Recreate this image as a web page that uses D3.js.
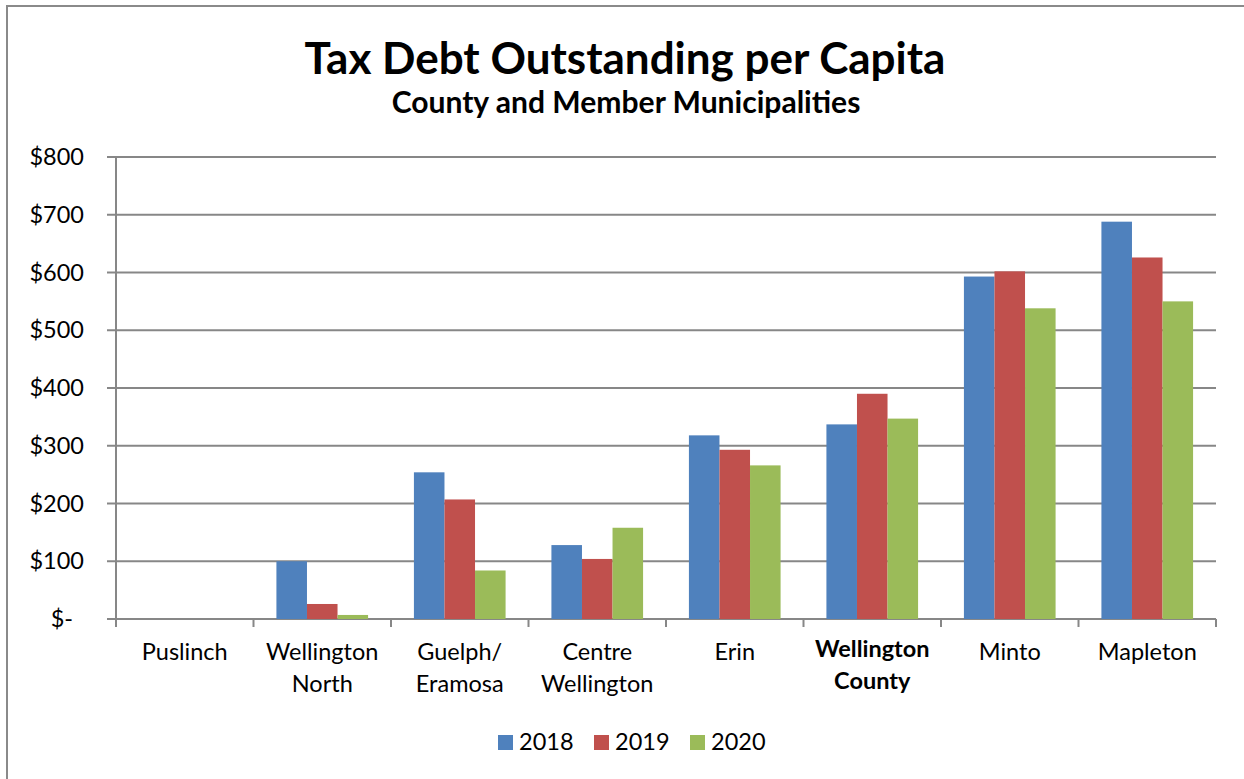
<!DOCTYPE html>
<html><head><meta charset="utf-8">
<script src="https://cdn.jsdelivr.net/npm/d3@7"></script>
<style>body{margin:0;background:#fff}svg{display:block}</style>
</head><body>
<svg id="c" width="1244" height="779"></svg>
<script>
const categories = ["Puslinch","Wellington North","Guelph/ Eramosa","Centre Wellington","Erin","Wellington County","Minto","Mapleton"];
const categoryLines = [["Puslinch"],["Wellington","North"],["Guelph/","Eramosa"],["Centre","Wellington"],["Erin"],["Wellington","County"],["Minto"],["Mapleton"]];
const seriesNames = ["2018","2019","2020"];
const values2018 = [0,100,254,128,318,337,593,688];
const values2019 = [0,26,207,104,293,390,602,626];
const values2020 = [0,7,84,158,266,347,538,550];
const yTicks = [0,100,200,300,400,500,600,700,800];
const yTickLabels = ["$-","$100","$200","$300","$400","$500","$600","$700","$800"];
const colors = ["#4F81BD","#C0504D","#9BBB59"];
const seriesValues = [values2018, values2019, values2020];

const svg = d3.select("#c");
const font = "Lato, 'Open Sans', sans-serif";
function fit(sel, w){ const l = sel.node().getComputedTextLength(); const fs = +sel.attr("font-size"); sel.attr("font-size", fs*w/l); }

// frame
svg.append("rect").attr("x",7).attr("y",6).attr("width",1260).attr("height",800)
  .attr("fill","#fff").attr("stroke","#8a8a8a").attr("stroke-width",2);

const L=116,R=1216,T=157,B=619;
const x0 = d3.scaleBand().domain(categories).range([L,R]).paddingInner(0).paddingOuter(0);
const x1 = d3.scaleBand().domain(seriesNames).range([0,x0.bandwidth()]).paddingInner(0).paddingOuter(0.75);
const y = d3.scaleLinear().domain([0,800]).range([B,T]);

// gridlines
svg.append("g").selectAll("line").data(yTicks).join("line")
  .attr("x1",L-9).attr("x2",R).attr("y1",d=>y(d)).attr("y2",d=>y(d))
  .attr("stroke","#878787").attr("stroke-width",2);
// y axis line
svg.append("line").attr("x1",L).attr("x2",L).attr("y1",T).attr("y2",B+8).attr("stroke","#878787").attr("stroke-width",2);
// x ticks
const bounds = categories.map(c=>x0(c)).concat([R]);
svg.append("g").selectAll("line").data(bounds).join("line")
  .attr("x1",d=>d).attr("x2",d=>d).attr("y1",B).attr("y2",B+8)
  .attr("stroke","#878787").attr("stroke-width",2);

// bars
const g = svg.append("g");
categories.forEach((c,i)=>{
  seriesNames.forEach((s,j)=>{
    const v = seriesValues[j][i];
    if(v<=0) return;
    g.append("rect").attr("x",x0(c)+x1(s)).attr("width",x1.bandwidth())
      .attr("y",y(v)).attr("height",y(0)-y(v)).attr("fill",colors[j]);
  });
});

// y labels
svg.append("g").selectAll("text").data(yTicks).join("text")
  .attr("x",(d,i)=> d===0?73:84).attr("y",d=>y(d)+8)
  .attr("text-anchor","end").attr("font-family",font).attr("font-size",23.5).attr("fill","#000")
  .text((d,i)=>yTickLabels[i]);

// x labels
categories.forEach((c,i)=>{
  const t = svg.append("text").attr("text-anchor","middle").attr("font-family",font)
    .attr("font-size",23.5).attr("fill","#000")
    .attr("font-weight", c==="Wellington County"?"bold":"normal");
  categoryLines[i].forEach((ln,k)=>{
    t.append("tspan").attr("x",x0(c)+x0.bandwidth()/2).attr("y",(c==="Wellington County"?657:660)+k*32).text(ln);
  });
});

// title
const t1 = svg.append("text").attr("x",625).attr("y",74).attr("text-anchor","middle")
  .attr("font-family",font).attr("font-weight","bold").attr("font-size",40).text("Tax Debt Outstanding per Capita");
fit(t1,641);
const t2 = svg.append("text").attr("x",626).attr("y",113).attr("text-anchor","middle")
  .attr("font-family",font).attr("font-weight","bold").attr("font-size",24).text("County and Member Municipalities");
fit(t2,469);

// legend
const lx=[498,594,690];
seriesNames.forEach((s,j)=>{
  svg.append("rect").attr("x",lx[j]).attr("y",735).attr("width",15).attr("height",15).attr("fill",colors[j]);
  svg.append("text").attr("x",lx[j]+21).attr("y",750).attr("font-family",font).attr("font-size",23.5).text(s);
});
</script>
</body></html>
